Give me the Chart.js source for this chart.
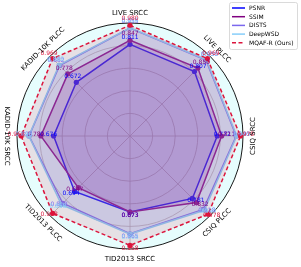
<!DOCTYPE html>
<html>
<head>
<meta charset="utf-8">
<script src="https://cdn.jsdelivr.net/npm/chart.js@4.4.1/dist/chart.umd.min.js"></script>
<style>
  html, body { margin: 0; padding: 0; background: #fff; }
  #wrap { width: 301px; height: 267px; }
</style>
</head>
<body>
<div id="wrap"><canvas id="radar" width="301" height="267"></canvas></div>
<script>
// axes of the radar, clockwise from the top
const metrics = ['LIVE SRCC', 'LIVE PLCC', 'CSIQ SRCC', 'CSIQ PLCC',
                 'TID2013 SRCC', 'TID2013 PLCC', 'KADID-10K SRCC', 'KADID-10K PLCC'];
const methods = ['PSNR', 'SSIM', 'DISTS', 'DeepWSD', 'MQAF-R (Ours)'];

const psnr    = [0.811, 0.807, 0.772, 0.781, 0.673, 0.694, 0.676, 0.672];
const ssim    = [0.847, 0.850, 0.811, 0.832, 0.673, 0.647, 0.789, 0.778];
const dists   = [0.955, 0.950, 0.940, 0.918, 0.865, 0.842, 0.893, 0.882];
const deepwsd = [0.958, 0.955, 0.945, 0.930, 0.868, 0.858, 0.895, 0.888];
const mqafr   = [0.980, 0.969, 0.978, 0.978, 0.968, 0.968, 0.963, 0.969];

const radialMin = 0;
const radialMax = 1;
const radialStep = 0.2;

const FONT = '"DejaVu Sans", "Liberation Sans", sans-serif';

function series(label, data, color, fillAlpha, dash, order) {
  return {
    label,
    data,
    borderColor: color,
    backgroundColor: Chart.helpers.color(color).alpha(fillAlpha).rgbString(),
    pointBackgroundColor: color,
    pointBorderColor: color,
    pointRadius: 2.6,
    pointBorderWidth: 0,
    borderWidth: 1.5,
    borderDash: dash,
    fill: true,
    order
  };
}

const datasets = [
  series(methods[0], psnr, '#0000ff', 0.1, [], 4),
  series(methods[1], ssim, '#800080', 0.2, [], 3),
  series(methods[2], dists, '#7b68ee', 0.15, [], 2),
  series(methods[3], deepwsd, '#87cefa', 0.15, [], 1),
  series(methods[4], mqafr, '#dc143c', 0.12, [4, 2.5], 0)
];

// pale cyan face of the polar area
const polarFace = {
  id: 'polarFace',
  beforeDraw(chart) {
    const s = chart.scales.r;
    const ctx = chart.ctx;
    ctx.save();
    ctx.fillStyle = '#e6fdfd';
    ctx.beginPath();
    ctx.arc(s.xCenter, s.yCenter, s.drawingArea, 0, Math.PI * 2);
    ctx.fill();
    ctx.restore();
  }
};

// value labels next to each point
const valueLabels = {
  id: 'valueLabels',
  afterDatasetsDraw(chart) {
    const s = chart.scales.r;
    const ctx = chart.ctx;
    ctx.save();
    ctx.font = '6px ' + FONT;
    ctx.textAlign = 'center';
    ctx.textBaseline = 'bottom';
    chart.data.datasets.forEach((ds, di) => {
      const meta = chart.getDatasetMeta(di);
      ctx.fillStyle = ds.borderColor;
      meta.data.forEach((pt, i) => {
        const dx = pt.x - s.xCenter, dy = pt.y - s.yCenter;
        const len = Math.hypot(dx, dy) || 1;
        const x = pt.x + dx / len * 5;
        const y = pt.y + dy / len * 5 + 1;
        ctx.fillText(ds.data[i].toFixed(3), x, y);
      });
    });
    ctx.restore();
  }
};

// rotated axis names around the outer circle
const axisNames = {
  id: 'axisNames',
  afterDraw(chart) {
    const s = chart.scales.r;
    const ctx = chart.ctx;
    const rot = [0, 45, -90, -45, 0, 45, 90, -45];
    ctx.save();
    ctx.font = '7px ' + FONT;
    ctx.fillStyle = '#000';
    ctx.textAlign = 'center';
    ctx.textBaseline = 'middle';
    chart.data.labels.forEach((lab, i) => {
      const p = s.getPointPosition(i, s.drawingArea + 10);
      ctx.save();
      ctx.translate(p.x, p.y);
      ctx.rotate(rot[i] * Math.PI / 180);
      ctx.fillText(lab, 0, 0);
      ctx.restore();
    });
    ctx.restore();
  }
};

// legend box in the top right corner
const cornerLegend = {
  id: 'cornerLegend',
  afterDraw(chart) {
    const ctx = chart.ctx;
    const x0 = 229, y0 = 2, w = 68, h = 47, rowH = 8.7;
    ctx.save();
    ctx.fillStyle = 'rgba(255,255,255,0.85)';
    ctx.strokeStyle = '#d0d0d0';
    ctx.lineWidth = 0.8;
    ctx.beginPath();
    ctx.roundRect(x0 + 0.5, y0 + 0.5, w, h, 2);
    ctx.fill();
    ctx.stroke();
    ctx.font = '6px ' + FONT;
    ctx.textBaseline = 'middle';
    ctx.textAlign = 'left';
    chart.data.datasets.forEach((ds, i) => {
      const y = y0 + 6 + i * rowH;
      ctx.strokeStyle = ds.borderColor;
      ctx.lineWidth = 1.5;
      ctx.setLineDash(ds.borderDash || []);
      ctx.beginPath();
      ctx.moveTo(x0 + 3, y);
      ctx.lineTo(x0 + 16, y);
      ctx.stroke();
      ctx.setLineDash([]);
      ctx.fillStyle = '#000';
      ctx.fillText(ds.label, x0 + 20, y + 0.5);
    });
    ctx.restore();
  }
};

new Chart(document.getElementById('radar'), {
  type: 'radar',
  data: { labels: metrics, datasets },
  options: {
    responsive: false,
    animation: false,
    devicePixelRatio: 1,
    layout: { padding: { left: 17, right: 58, top: 23, bottom: 18 } },
    elements: { line: { tension: 0 } },
    plugins: {
      legend: { display: false },
      tooltip: { enabled: false }
    },
    scales: {
      r: {
        min: radialMin,
        max: radialMax,
        ticks: { display: false, stepSize: radialStep },
        grid: {
          circular: true,
          color: ctx => ctx.tick && ctx.tick.value >= radialMax ? '#000' : '#b0b0b0',
          lineWidth: ctx => ctx.tick && ctx.tick.value >= radialMax ? 0.9 : 0.8
        },
        angleLines: { color: '#b0b0b0', lineWidth: 0.8 },
        pointLabels: { display: false }
      }
    }
  },
  plugins: [polarFace, valueLabels, axisNames, cornerLegend]
});
</script>
</body>
</html>
